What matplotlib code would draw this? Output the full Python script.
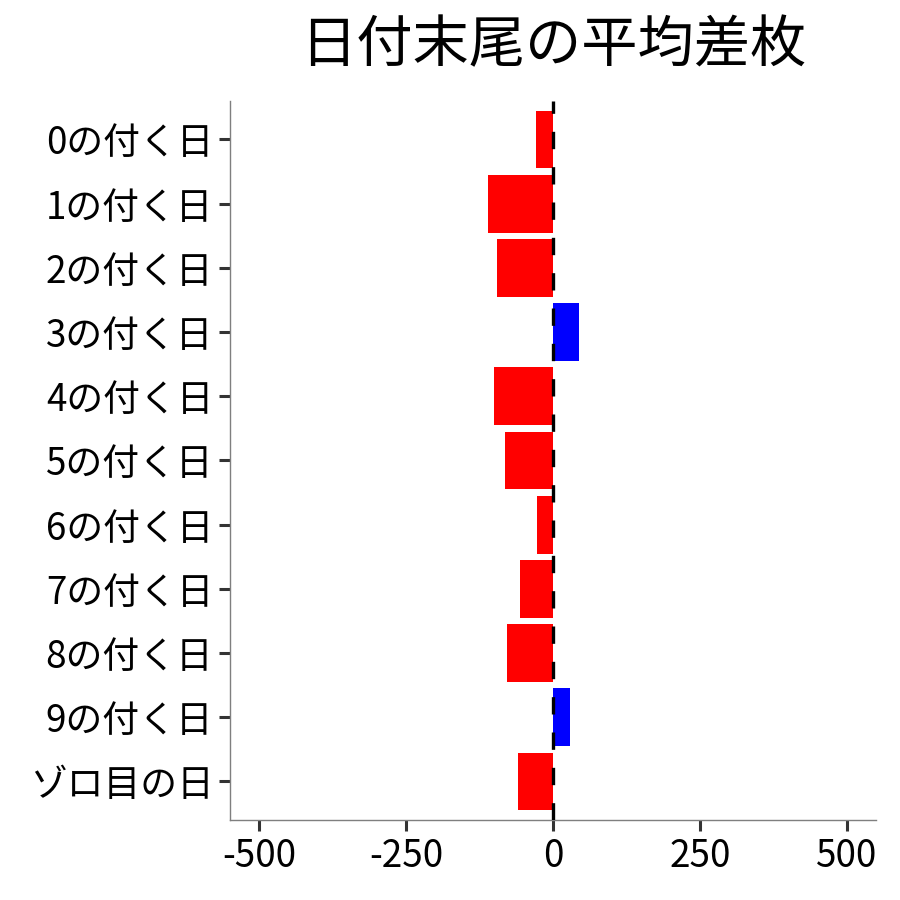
import matplotlib
matplotlib.use("Agg")
import matplotlib.pyplot as plt

plt.rcParams['font.family'] = ['Noto Sans CJK JP', 'DejaVu Sans']

# Data
# ----
days = ['0の付く日', '1の付く日', '2の付く日', '3の付く日', '4の付く日',
        '5の付く日', '6の付く日', '7の付く日', '8の付く日', '9の付く日',
        'ゾロ目の日']
mean_diff = [-29, -110, -95, 45, -101, -82, -27, -56, -78, 29, -60]
x_ticks = [-500, -250, 0, 250, 500]
x_tick_labels = ['-500', '-250', '0', '250', '500']

colors = ['#0000FF' if v > 0 else '#FF0000' for v in mean_diff]
ypos = list(range(len(days)))

# Draw figure
# -----------
fig = plt.figure(figsize=(9, 9), dpi=100)
ax = fig.add_axes([0.2556, 0.0889, 0.7178, 0.7989])

ax.barh(ypos, mean_diff, height=0.9, color=colors, zorder=2)
ax.axvline(0, color='black', linewidth=2.4, linestyle=(0, (5.2, 5.4)), zorder=3)

ax.set_xlim(-550, 550)
ax.set_ylim(len(days) - 0.4, -0.6)
ax.set_yticks(ypos)
ax.set_yticklabels(days)
ax.set_xticks(x_ticks)
ax.set_xticklabels(x_tick_labels)

for side in ['top', 'right']:
    ax.spines[side].set_visible(False)
for side in ['left', 'bottom']:
    ax.spines[side].set_color('#7f7f7f')
    ax.spines[side].set_linewidth(1.0)

ax.tick_params(axis='both', length=8, width=2.2, color='#333333',
               labelsize=26.5, labelcolor='black', pad=4)

fig.text(0.6144, 0.948, '日付末尾の平均差枚', ha='center', va='center', fontsize=40.5)

plt.savefig('out.png', facecolor='w')
